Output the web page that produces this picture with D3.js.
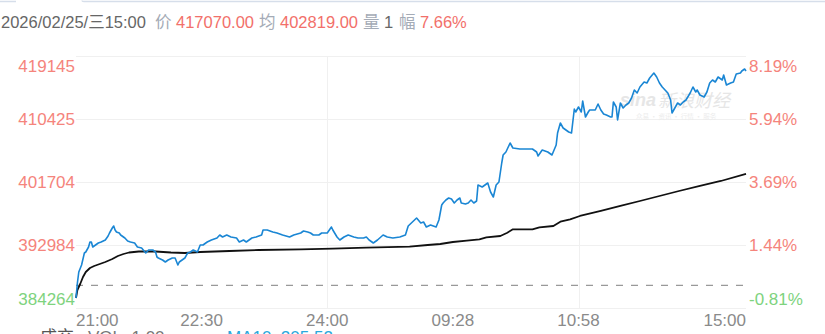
<!DOCTYPE html>
<html><head><meta charset="utf-8">
<script src="https://cdn.jsdelivr.net/npm/d3@7/dist/d3.min.js"></script>
<style>
html,body{margin:0;padding:0;background:#fff;}
svg{display:block;font-family:"Liberation Sans",Arial,"Noto Sans CJK SC",sans-serif;}
</style></head><body>
<svg id="c" width="825" height="334"></svg>
<script>
// ---- data ----
const priceMin = [0,1,2,4,6,7,9,10,11,12,14,16,18,21,23,24,26,27,28,29,31,32,35,37,39,42,44,47,50,52,55,57,58,59,62,64,66,69,71,73,74,76,78,80,82,84,87,89,91,94,97,101,103,105,108,111,115,117,120,122,126,129,133,134,137,141,144,148,153,156,161,163,166,168,170,174,176,180,183,184,187,189,192,195,199,202,206,208,210,213,216,220,223,227,232,236,238,241,244,247,249,251,254,258,260,262,263,265,267,269,271,273,275,276,279,281,283,285,287,288,291,293,295,297,299,301,303,305,306,308,311,313,318,327,330,331,334,338,341,344,345,347,349,351,353,355,357,358,360,362,363,365,367,368,372,374,376,378,380,383,384,385,387,388,390,392,394,396,398,400,402,404,407,409,411,414,416,418,420,422,424,426,427,429,431,433,435,437,440,442,444,445,447,450,452,454,456,458,460,463,464,466,469,471,473,476,477,479,480];
const priceVal = [385648,387725,389247,390216,391877,392016,392708,393400,393400,392708,392984,393261,393400,393677,394230,394645,395338,395614,395061,394784,394645,394369,393953,393538,393400,393261,392708,392569,391877,392292,392292,392016,391323,391185,390908,390631,390908,391185,391185,390216,390631,390908,391185,391877,392016,392292,392016,392984,392984,393400,393677,393953,394369,394092,394369,394092,393953,393400,393677,393400,393953,394092,394369,395061,395061,394784,394645,394369,394092,394369,394645,394922,394784,394645,394369,394369,394645,394645,395476,395061,394092,393677,394092,394369,394092,393953,393953,394092,393677,393261,393677,394369,394092,393953,394092,394369,395614,396168,396722,396030,396168,395476,395753,395476,396445,398521,398798,399214,399490,399352,398798,399214,399490,398798,398660,398798,399214,398798,399075,401290,401013,401290,401567,400321,399629,401290,401705,404335,405442,405858,407103,406411,406273,406273,405858,405304,406134,405858,405442,406826,408488,409872,409180,408903,408626,408488,411810,411394,412086,411394,412917,410702,411394,411671,411671,412502,411671,411117,410979,410702,410702,412779,412086,410287,412640,411948,412363,412640,413332,414440,414024,414855,415547,415409,416101,416793,416239,415409,414855,414440,414024,413055,411256,411948,412640,412363,412779,413055,414024,414855,414163,414440,413747,413471,414163,415409,415824,415547,416239,415824,416516,415131,415409,415547,416654,416793,417070,417346,417070];
const avgMin = [0,1,3,5,7,10,13,17,21,26,30,34,38,45,57,68,78,89,110,131,161,184,208,239,252,261,270,280,289,294,304,309,313,327,332,342,347,354,361,376,390,404,418,432,447,462,480];
const avgVal = [385648,386756,387586,388555,389247,389801,390078,390354,390631,391047,391462,391739,391946,392085,392085,391946,391877,392016,392154,392292,392389,392472,392611,392749,392984,393123,393400,393580,393773,394050,394230,394687,395158,395158,395435,395614,396210,396542,396999,397691,398383,399075,399767,400459,401151,401843,402819];
const yTicks = [419145,410425,401704,392984,384264];
const pctLabels = ["8.19%","5.94%","3.69%","1.44%","-0.81%"];
const timeLabels = ["21:00","22:30","24:00","09:28","10:58","15:00"];
const timeMin = [0,90,180,270,360,480];
const gridTimes = [180,360];
const prevClose = 387400;
const header = [
  {t:"2026/02/25/三15:00", c:"#666"},
  {t:"价", c:"#a4abb6"}, {t:"417070.00", c:"#f2706a"},
  {t:"均", c:"#a4abb6"}, {t:"402819.00", c:"#f2706a"},
  {t:"量", c:"#a4abb6"}, {t:"1", c:"#666"},
  {t:"幅", c:"#a4abb6"}, {t:"7.66%", c:"#f2706a"}
];
const headerX = [1,155,176,259,280,363,384,399,420];
const bottomTexts = [{t:"成交",c:"#555",x:40},{t:"VOL: 1.00",c:"#777",x:88},{t:"MA10: 205.52",c:"#2aa8dc",x:227}];

// ---- drawing ----
const svg = d3.select("#c");
const L = 76, R = 746, T = 56, B = 308;
const x = d3.scaleLinear().domain([0,480]).range([L,R]);
const y = d3.scaleLinear().domain([384264,419145]).range([B,T]);

// top UI border bits
svg.append("path").attr("d","M0,1.5H16").attr("stroke","#d6deea").attr("stroke-width",1.5);
svg.append("path").attr("d","M82,0.5Q82,1.5 84,1.5H825").attr("stroke","#d6deea").attr("stroke-width",1.5).attr("fill","none");

// header
svg.append("g").selectAll("text").data(header).join("text")
  .attr("x",(d,i)=>headerX[i]).attr("y",28).attr("font-size",16.5).attr("fill",d=>d.c).text(d=>d.t);

// gridlines
svg.append("g").selectAll("line").data(yTicks).join("line")
  .attr("x1",L).attr("x2",R).attr("y1",d=>y(d)+0.5).attr("y2",d=>y(d)+0.5)
  .attr("stroke","#f0f0f0").attr("stroke-width",1);
svg.append("g").selectAll("line").data(gridTimes).join("line")
  .attr("x1",d=>Math.round(x(d))+0.5).attr("x2",d=>Math.round(x(d))+0.5).attr("y1",T).attr("y2",B)
  .attr("stroke","#f0f0f0").attr("stroke-width",1);

// watermark
const wm = svg.append("g").attr("fill","#e6e6e6");
wm.append("text").attr("x",620).attr("y",106).attr("font-size",18).attr("font-style","italic").attr("font-weight","bold").text("sina");
wm.append("text").attr("x",658).attr("y",107).attr("font-size",18).attr("font-style","italic").attr("font-family","Noto Sans CJK SC").text("新浪财经");
wm.append("text").attr("x",636).attr("y",119).attr("font-size",6.5).attr("font-family","Noto Sans CJK SC").attr("fill","#ececec").text("众易  ·  资讯  ·  行情  ·  服务");

// axis labels
const yl = svg.append("g").attr("font-size",17);
yl.selectAll("text.l").data(yTicks).join("text").attr("class","l")
  .attr("x",75).attr("text-anchor","end")
  .attr("y",(d,i)=> i===0 ? y(d)+16 : (i===yTicks.length-1 ? y(d)-3 : y(d)+6))
  .attr("fill",d=> d>=prevClose ? "#f5847c" : "#7ed37e").text(d=>d);
yl.selectAll("text.r").data(yTicks).join("text").attr("class","r")
  .attr("x",749).attr("text-anchor","start")
  .attr("y",(d,i)=> i===0 ? y(d)+16 : (i===yTicks.length-1 ? y(d)-3 : y(d)+6))
  .attr("fill",d=> d>=prevClose ? "#f5847c" : "#7ed37e").text((d,i)=>pctLabels[i]);

svg.append("g").selectAll("text").data(timeLabels).join("text")
  .attr("x",(d,i)=>x(timeMin[i]))
  .attr("text-anchor",(d,i)=> i===0 ? "start" : (i===timeLabels.length-1 ? "end" : "middle"))
  .attr("y",326).attr("font-size",17).attr("fill","#8a8a8a").text(d=>d);

// prev close dashed
svg.append("line").attr("x1",L).attr("x2",R).attr("y1",y(prevClose)).attr("y2",y(prevClose))
  .attr("stroke","#999").attr("stroke-width",1.3).attr("stroke-dasharray","7,8");

// lines
const line = d3.line().x(d=>x(d[0])).y(d=>y(d[1]));
svg.append("path").datum(d3.zip(avgMin,avgVal)).attr("d",line)
  .attr("fill","none").attr("stroke","#111").attr("stroke-width",1.8).attr("stroke-linejoin","round");
svg.append("path").datum(d3.zip(priceMin,priceVal)).attr("d",line)
  .attr("fill","none").attr("stroke","#1a86d4").attr("stroke-width",1.6).attr("stroke-linejoin","round");

// bottom cut-off text (clipped by the window edge, as in the reference)
svg.append("g").selectAll("text").data(bottomTexts).join("text")
  .attr("x",d=>d.x).attr("y",343).attr("font-size",17).attr("fill",d=>d.c).text(d=>d.t);
</script>
</body></html>
